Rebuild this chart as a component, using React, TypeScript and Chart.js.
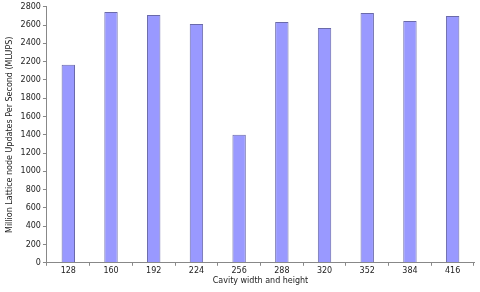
import React, { useEffect, useRef } from "react";
import { Chart, registerables } from "chart.js";

Chart.register(...registerables);

const categories = ["128", "160", "192", "224", "256", "288", "320", "352", "384", "416"];
const mlups = [2167, 2744, 2711, 2611, 1400, 2633, 2567, 2733, 2644, 2700];
const yTitle = "Million Lattice node Updates Per Second (MLUPS)";
const xTitle = "Cavity width and height";

export default function App() {
  const ref = useRef<HTMLCanvasElement | null>(null);
  useEffect(() => {
    document.body.style.margin = "0";
    const font = { family: "DejaVu Sans", size: 8 };
    const chart = new Chart(ref.current!, {
      type: "bar",
      data: {
        labels: categories,
        datasets: [
          {
            data: mlups,
            backgroundColor: "#9999ff",
            borderColor: "#6a6aaa",
            borderWidth: 1,
            barPercentage: 0.33,
            categoryPercentage: 0.95,
          },
        ],
      },
      options: {
        animation: false,
        responsive: false,
        maintainAspectRatio: false,
        layout: { padding: { top: 5, right: 6, left: 5, bottom: 6 } },
        plugins: { legend: { display: false }, tooltip: { enabled: false } },
        scales: {
          x: {
            grid: { drawOnChartArea: false, drawTicks: true, tickLength: 3, color: "#888" },
            border: { color: "#888" },
            ticks: { color: "#222", font, padding: 0 },
            title: { display: true, text: xTitle, color: "#222", font, padding: { top: 1, bottom: 0 } },
          },
          y: {
            min: 0,
            max: 2800,
            grid: { drawOnChartArea: false, drawTicks: true, tickLength: 4, color: "#888" },
            border: { color: "#888" },
            ticks: { stepSize: 200, color: "#222", font, padding: 2, callback: (v: any) => String(v) },
            title: { display: true, text: yTitle, color: "#222", font, padding: { top: 0, bottom: 4 } },
          },
        },
      },
    });
    return () => chart.destroy();
  }, []);
  return (
    <div style={{ width: 480, height: 292 }}>
      <canvas ref={ref} width={480} height={292} style={{ display: "block" }} />
    </div>
  );
}
